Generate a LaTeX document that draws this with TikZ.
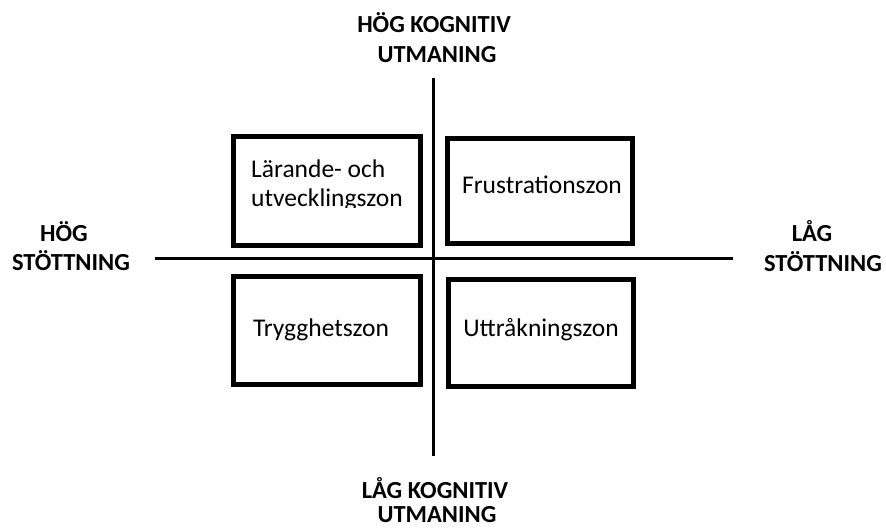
\documentclass[tikz,border=0pt]{standalone}
\usepackage{fontspec}
\setmainfont{Carlito}
\begin{document}
\begin{tikzpicture}[x=1pt,y=-1pt,
  zone/.style={draw=black,line width=5pt,fill=white},
  axis/.style={draw=black,line width=3pt},
  lbl/.style={font=\fontsize{24.5}{29}\selectfont\bfseries,anchor=base,inner sep=0pt},
  ztext/.style={font=\fontsize{25.5}{29}\selectfont,anchor=base,inner sep=0pt}]
\useasboundingbox (0,0) rectangle (886,529);
\fill[white] (0,0) rectangle (886,529);
% axes
\coordinate (vt) at (433,78);
\coordinate (vb) at (433,456);
\coordinate (hl) at (155,259);
\coordinate (hr) at (733,259);
\draw[axis] (vt) -- (vb);
\draw[axis] (hl) -- (hr);
% boxes
\draw[zone] (233,137) rectangle (420,246);
\draw[zone] (447,139) rectangle (632,244);
\draw[zone] (233,277) rectangle (420,384);
\draw[zone] (448,280) rectangle (633,386);
% box texts
\begin{scope}
\clip (236,140) rectangle (417,208);
\node[ztext,anchor=base west] (t1) at (251,178) {Lärande- och};
\node[ztext,anchor=base west] (t2) at (251,207) {utvecklingszon};
\end{scope}
\node[ztext] (t3) at (542,194) {Frustrationszon};
\node[ztext] (t4) at (321,336) {Trygghetszon};
\node[ztext] (t5) at (541,336) {Uttråkningszon};
% axis labels
\node[lbl] (a1) at (434,33) {HÖG KOGNITIV};
\node[lbl] (a2) at (437,63) {UTMANING};
\node[lbl] (b1) at (435,498) {LÅG KOGNITIV};
\node[lbl] (b2) at (437,522) {UTMANING};
\node[lbl] (l1) at (64,242) {HÖG};
\node[lbl] (l2) at (71,271) {STÖTTNING};
\node[lbl] (r1) at (812,242) {LÅG};
\node[lbl] (r2) at (823,272) {STÖTTNING};
\end{tikzpicture}
\end{document}
